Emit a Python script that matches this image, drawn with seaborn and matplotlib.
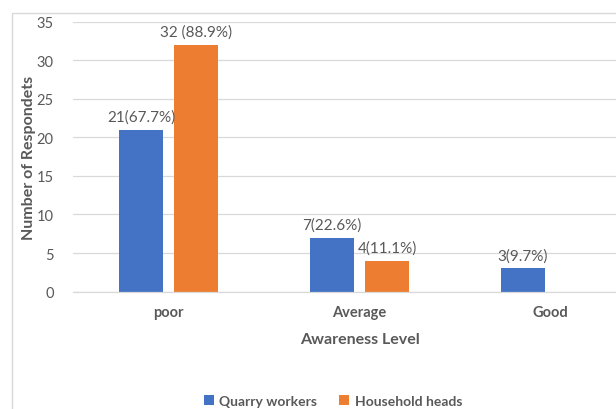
import pandas as pd
import numpy as np
import matplotlib.pyplot as plt
import seaborn as sns
from matplotlib.patches import Rectangle

# data
levels = ['poor', 'Average', 'Good']
quarry_workers = [21, 7, 3]
household_heads = [32, 4, 0]
quarry_labels = ['21(67.7%)', '7(22.6%)', '3(9.7%)']
household_labels = ['32 (88.9%)', '4(11.1%)', '']
groups = ['Quarry workers', 'Household heads']

df = pd.DataFrame({
    'Awareness Level': levels * 2,
    'Respondents': quarry_workers + household_heads,
    'Group': [groups[0]] * 3 + [groups[1]] * 3,
})

sns.set_style('white')
plt.rcParams['font.family'] = ['Lato', 'DejaVu Sans']
grey = '#595959'

fig = plt.figure(figsize=(6.16, 4.10), dpi=100)
# outer chart border (cropped on the right like the original)
fig.patches.append(Rectangle((12 / 616, -0.1), 1.2, (410 - 14) / 410 + 0.1,
                             transform=fig.transFigure, fill=False,
                             edgecolor='#D9D9D9', linewidth=1.0))

ax = fig.add_axes([73 / 616, (410 - 292.6) / 410, 573 / 616, 270 / 410])
sns.barplot(data=df, x='Awareness Level', y='Respondents', hue='Group',
            palette=['#4472C4', '#ED7D31'], width=0.576, gap=0.218,
            saturation=1, linewidth=0, ax=ax, legend=True)

ax.set_xlim(-0.5, 2.5)
ax.set_ylim(0, 35)
ax.set_yticks(range(0, 36, 5))
ax.yaxis.grid(True, color='#D9D9D9', linewidth=0.9)
ax.set_axisbelow(True)
for s in ['top', 'right', 'left']:
    ax.spines[s].set_visible(False)
ax.spines['bottom'].set_color('#D9D9D9')
ax.spines['bottom'].set_linewidth(0.9)
ax.tick_params(axis='both', length=0, colors=grey, labelsize=10.5)
ax.tick_params(axis='y', pad=14)
ax.tick_params(axis='x', pad=10)
for t in ax.get_xticklabels():
    t.set_fontweight('bold')

ax.set_xlabel('Awareness Level', fontsize=11.5, fontweight='bold', color=grey, labelpad=9)
ax.set_ylabel('Number of Respondets', fontsize=11.5, fontweight='bold', color=grey, labelpad=0)

# data labels above the bars
for container, labels in zip(ax.containers, [quarry_labels, household_labels]):
    ax.bar_label(container, labels=labels, padding=4, fontsize=11, color=grey)

ax.legend(loc='center', bbox_to_anchor=(333 / 616, 8 / 410), bbox_transform=fig.transFigure,
          ncol=2, frameon=False, labelcolor=grey, handlelength=0.7,
          handleheight=0.7, handletextpad=0.4, columnspacing=1.6,
          prop={'weight': 'bold', 'size': 10})

fig.savefig('out.png', dpi=100)
